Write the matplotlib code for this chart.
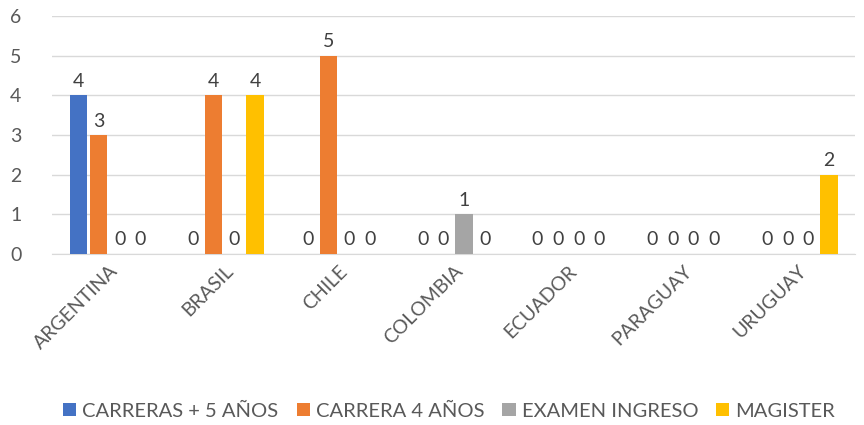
import numpy as np
import matplotlib.pyplot as plt

plt.rcParams['font.family'] = ['Lato', 'DejaVu Sans']

paises = ['ARGENTINA', 'BRASIL', 'CHILE', 'COLOMBIA', 'ECUADOR', 'PARAGUAY', 'URUGUAY']
series = ['CARRERAS + 5 AÑOS', 'CARRERA 4 AÑOS', 'EXAMEN INGRESO', 'MAGISTER']
carreras_5 = [4, 0, 0, 0, 0, 0, 0]
carrera_4 = [3, 4, 5, 0, 0, 0, 0]
examen = [0, 0, 0, 1, 0, 0, 0]
magister = [0, 4, 0, 0, 0, 0, 2]
colores = ['#4472C4', '#ED7D31', '#A5A5A5', '#FFC000']

txt = '#595959'
fs = 14
fig = plt.figure(figsize=(8.64, 4.25), dpi=100)
ax = fig.add_axes([0.060, 0.4024, 0.930, 0.5596])

x = np.arange(len(paises))
slot = 0.72 / 4
for i, (vals, nombre, c) in enumerate(zip([carreras_5, carrera_4, examen, magister], series, colores)):
    pos = x - 0.36 + slot * (i + 0.5)
    bars = ax.bar(pos, vals, width=slot * 0.83, color=c, label=nombre, zorder=3)
    for b, v in zip(bars, vals):
        ax.annotate(str(v), (b.get_x() + b.get_width() / 2, v), xytext=(0, 4),
                    textcoords='offset points', ha='center', va='bottom',
                    fontsize=fs, color='#404040')

ax.set_xlim(-0.5, len(paises) - 0.5)
ax.set_ylim(0, 6)
ax.set_yticks(range(7))
ax.yaxis.grid(True, color='#D9D9D9', linewidth=1, zorder=0)
for s in ['top', 'right', 'left']:
    ax.spines[s].set_visible(False)
ax.spines['bottom'].set_color('#D9D9D9')
ax.tick_params(axis='both', length=0, labelsize=fs, labelcolor=txt)
ax.tick_params(axis='y', pad=22)
ax.tick_params(axis='x', pad=6)
ax.set_xticks(x)
ax.set_xticklabels(paises, rotation=45, ha='right', rotation_mode='anchor')

fig.legend(loc='lower center', bbox_to_anchor=(0.52, -0.03), ncol=4, frameon=False,
           fontsize=14.5, labelcolor=txt, handlelength=0.65, handleheight=0.65,
           handletextpad=0.3, columnspacing=0.9)
fig.savefig('out.png')
